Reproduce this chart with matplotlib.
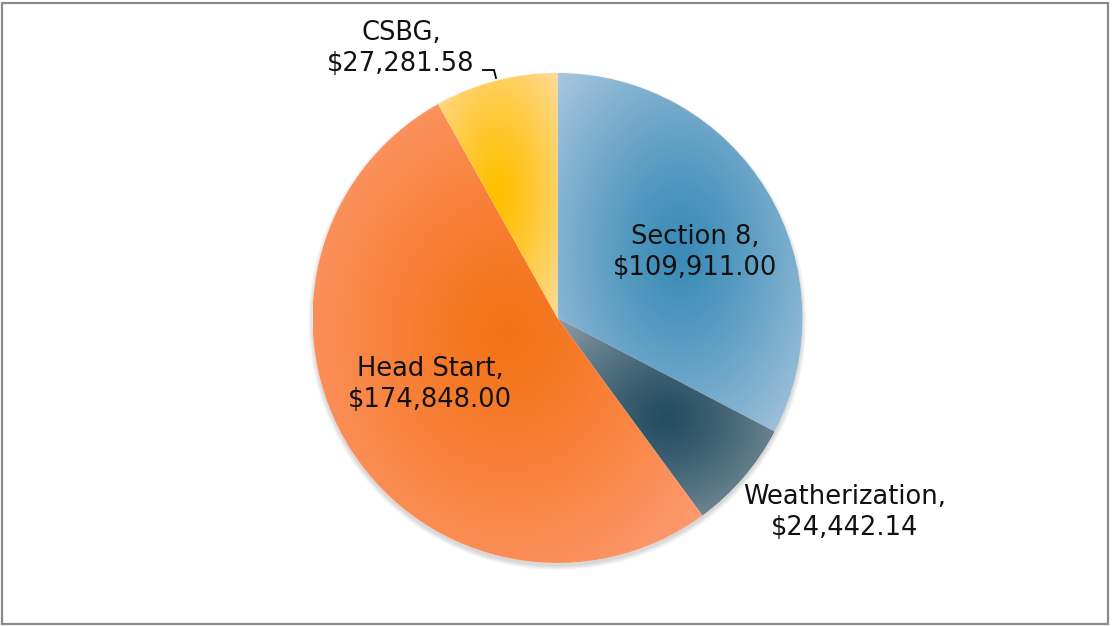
import numpy as np
import matplotlib.pyplot as plt
from matplotlib.colors import to_rgb
from matplotlib.patches import Circle, Rectangle

# Data
programs = ["Section 8", "Weatherization", "Head Start", "CSBG"]
amounts = [109911.00, 24442.14, 174848.00, 27281.58]
amount_labels = ["$109,911.00", "$24,442.14", "$174,848.00", "$27,281.58"]

# gradient colours per slice: (centre, edge)
center_colors = ["#3a8bb7", "#234d60", "#f47216", "#ffbf00"]
edge_colors = ["#abc8df", "#909ea8", "#ff9f7e", "#ffdb98"]

W, H = 1112, 626
fig = plt.figure(figsize=(W / 100, H / 100), dpi=100)
ax = fig.add_axes([0, 0, 1, 1])
ax.set_xlim(0, W)
ax.set_ylim(0, H)
ax.axis("off")

cx, cy, R = 557.5, H - 318, 245

# soft shadow behind the pie (mostly below)
for k in range(5):
    ax.add_patch(Circle((cx, cy - 3), R + k, color="black",
                        alpha=0.03, lw=0, zorder=0))
ax.add_patch(Circle((cx, cy), R, color="white", lw=0, zorder=0.5))

wedges, _ = ax.pie(amounts, startangle=90, counterclock=False,
                   center=(cx, cy), radius=R, frame=True,
                   wedgeprops=dict(linewidth=0))

# radial gradient per slice, centred on the slice's bounding box
for w, c0, c1 in zip(wedges, center_colors, edge_colors):
    ext = w.get_path().get_extents()
    x0, y0, x1, y1 = ext.x0, ext.y0, ext.x1, ext.y1
    mx, my = (x0 + x1) / 2, (y0 + y1) / 2
    hw, hh = (x1 - x0) / 2, (y1 - y0) / 2
    xs = np.linspace(x0, x1, 300)
    ys = np.linspace(y0, y1, 300)
    X, Y = np.meshgrid(xs, ys)
    t = np.sqrt(((X - mx) / hw) ** 2 + ((Y - my) / hh) ** 2) / np.sqrt(2)
    t = np.clip(t, 0, 1) ** 1.25
    t = t[..., None]
    img = (1 - t) * np.array(to_rgb(c0)) + t * np.array(to_rgb(c1))
    w.set_facecolor("none")
    im = ax.imshow(img, extent=(x0, x1, y0, y1), origin="lower",
                   interpolation="bilinear", zorder=1)
    im.set_clip_path(w)

ax.set_xlim(0, W)
ax.set_ylim(0, H)
ax.set_aspect("auto")
ax.axis("off")

# labels (x centre, baseline of last line, in pixels from top)
label_pos = [(695, 275), (845, 535), (430, 407), (401, 71)]
for name, amt, (lx, ly) in zip(programs, amount_labels, label_pos):
    ax.text(lx, H - ly, f"{name},\n{amt}", ha="center", va="baseline",
            fontsize=18.5, linespacing=1.25, color="#111111",
            family="DejaVu Sans", zorder=5)

# leader line for CSBG
ax.plot([483, 494, 496], [H - 70, H - 70, H - 78], color="black", lw=1.3,
        zorder=5, solid_joinstyle="miter")

# outer frame
fig.patches.append(Rectangle((2 / W, 2 / H), 1106 / W, 621 / H,
                             transform=fig.transFigure, fill=False,
                             edgecolor="#8a8a8a", lw=1.6))

fig.savefig("out.png", dpi=100, facecolor="white")
